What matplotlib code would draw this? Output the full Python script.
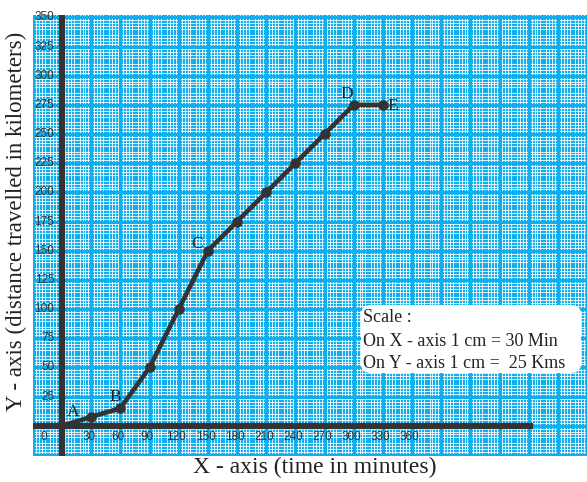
import matplotlib
matplotlib.use("Agg")
import matplotlib.pyplot as plt
import numpy as np
from matplotlib.patches import FancyBboxPatch

# ---- data ----
time_min = [0, 30, 60, 90, 120, 150, 180, 210, 240, 270, 300, 330]
dist_km = [0, 7.5, 15, 50, 100, 150, 175, 200, 225, 250, 275, 275]
x_ticks = [0, 30, 60, 90, 120, 150, 180, 210, 240, 270, 300, 330, 360]
y_ticks = [25, 50, 75, 100, 125, 150, 175, 200, 225, 250, 275, 300, 325, 350]
point_names = ['A', 'B', 'C', 'D', 'E']
point_idx = [0, 2, 5, 10, 11]
scale_lines = ["Scale :", "On X - axis 1 cm = 30 Min", "On Y - axis 1 cm =  25 Kms"]

W, H = 587, 482
BLUE = '#10AEEC'
fig = plt.figure(figsize=(W / 100, H / 100), dpi=100)
ax = fig.add_axes([33 / W, (H - 456) / H, 554 / W, 441 / H])
XMIN, XMAX = -30, 540
YMIN, YMAX = -26, 352
ax.set_xlim(XMIN, XMAX)
ax.set_ylim(YMIN, YMAX)
ax.set_facecolor(BLUE)
for s in ax.spines.values():
    s.set_visible(False)
ax.set_xticks([]); ax.set_yticks([])

# graph paper
for i, x in enumerate(np.arange(-30, 541, 3)):
    if i % 10 in (0, 5):
        continue
    ax.axvline(x, color='white', lw=0.7, alpha=0.85, zorder=0)
for i, y in enumerate(np.arange(-25, 351, 2.5)):
    if i % 10 in (0, 5):
        continue
    ax.axhline(y, color='white', lw=0.7, alpha=0.85, zorder=0)
for x in np.arange(-30, 541, 30):
    ax.axvline(x, color=BLUE, lw=2.2, zorder=0.5)
for y in np.arange(-25, 351, 25):
    ax.axhline(y, color=BLUE, lw=2.2, zorder=0.5)

# axes lines
ax.plot([0, 0], [YMIN, YMAX], color='#333333', lw=4.5, solid_capstyle='butt', zorder=3)
ax.plot([XMIN, 484], [0, 0], color='#333333', lw=4.5, solid_capstyle='butt', zorder=3)

# tick labels
tick_font = dict(family='Liberation Sans', fontsize=8.5, color='#333333', zorder=4)
for v in y_ticks:
    ax.text(-8, v, str(v), ha='right', va='center', **tick_font)
ax.text(-18.5, -9.5, '0', ha='center', va='center', **tick_font)
for v in x_ticks[1:]:
    ax.text(v - 2.5, -9.5, str(v), ha='center', va='center', **tick_font)

# data line
ax.plot(time_min, dist_km, color='#333333', lw=3.3, solid_joinstyle='round',
        solid_capstyle='round', zorder=5)
ax.plot(time_min[1:], dist_km[1:], 'o', color='#333333', ms=6.5, zorder=6)

# point labels
offsets = [(8, 9.5), (-4, 8), (-7.5, 5), (-5, 7.5), (7, -0.7)]
for name, idx, off in zip(point_names, point_idx, offsets):
    ax.annotate(name, (time_min[idx], dist_km[idx]), xytext=off,
                textcoords='offset points', ha='center', va='center',
                family='Liberation Serif', fontsize=12.5, color='#222222', zorder=7)

# scale box (figure pixel coordinates measured from the top)
bx0, bx1, by0, by1 = 361, 581, 305, 373
box = FancyBboxPatch((bx0 / W, 1 - by1 / H), (bx1 - bx0) / W, (by1 - by0) / H,
                     boxstyle='round,pad=0,rounding_size=0.018',
                     transform=fig.transFigure, facecolor='white', edgecolor='none',
                     zorder=8)
fig.add_artist(box)
for i, line in enumerate(scale_lines):
    fig.text(363 / W, 1 - (318 + i * 23) / H, line, ha='left', va='center',
             family='Liberation Serif', fontsize=13, color='#222222', zorder=9)

# axis titles
fig.text(315 / W, 1 - 467 / H, 'X - axis (time in minutes)', ha='center', va='center',
         family='Liberation Serif', fontsize=17, color='#222222')
fig.text(16 / W, 1 - 221 / H, 'Y - axis (distance travelled in kilometers)', ha='center',
         va='center', rotation=90, family='Liberation Serif', fontsize=16.5, color='#222222')

fig.savefig('out.png', dpi=100)
